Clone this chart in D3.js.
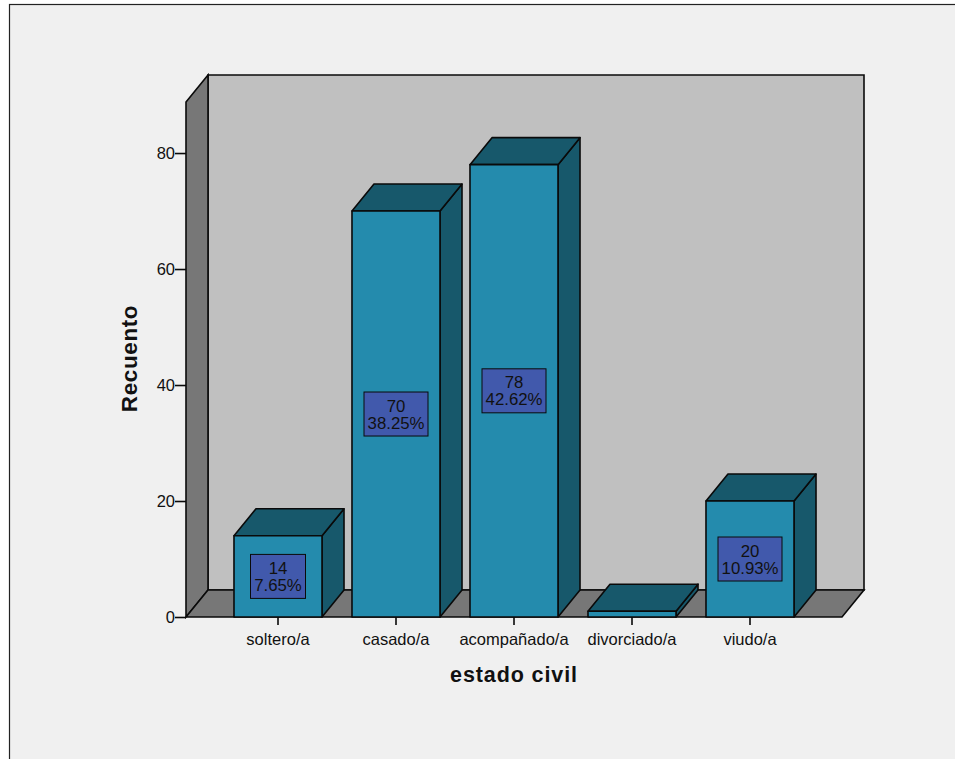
<!DOCTYPE html>
<html>
<head>
<meta charset="utf-8">
<script src="https://cdnjs.cloudflare.com/ajax/libs/d3/7.8.5/d3.min.js"></script>
<style>
html,body{margin:0;padding:0;background:#fff;overflow:hidden}
text{font-family:"Liberation Sans",Arial,sans-serif;fill:#111}
</style>
</head>
<body>
<svg id="chart" width="955" height="759"></svg>
<script>
// Marital status counts, 3D bar chart
const categories = ["soltero/a","casado/a","acompañado/a","divorciado/a","viudo/a"];
const counts = [14,70,78,1,20];
const percents = ["7.65%","38.25%","42.62%",null,"10.93%"];
const yTicks = [0,20,40,60,80];
const yLabel = "Recuento";
const xLabel = "estado civil";

const svg = d3.select("#chart");
const depthX = 22, depthY = -27;
const ink = "#0a0a0a";

const x = d3.scaleBand().domain(categories).range([219,809]).paddingInner(0.254).paddingOuter(0.127);
const y = d3.scaleLinear().domain([0,88.8]).range([617,102]);
const left = 186, right = 842;
const line = pts => "M" + pts.map(p => p.join(",")).join("L") + "Z";

// chart background and frame
svg.append("rect").attr("x",9.5).attr("y",4.5).attr("width",960).attr("height",770)
  .attr("fill","#f0f0f0").attr("stroke","#222").attr("stroke-width",1.2);

const walls = svg.append("g").attr("stroke",ink).attr("stroke-width",1.6).attr("stroke-linejoin","miter");
// back wall
walls.append("path").attr("fill","#c0c0c0").attr("d",line([
  [left+depthX,y.range()[1]+depthY],[right+depthX,y.range()[1]+depthY],
  [right+depthX,y(0)+depthY],[left+depthX,y(0)+depthY]]));
// side wall
walls.append("path").attr("fill","#777777").attr("d",line([
  [left,y.range()[1]],[left+depthX,y.range()[1]+depthY],
  [left+depthX,y(0)+depthY],[left,y(0)]]));
// floor
walls.append("path").attr("fill","#777777").attr("d",line([
  [left,y(0)],[left+depthX,y(0)+depthY],[right+depthX,y(0)+depthY],[right,y(0)]]));

// y axis
const yAxis = d3.axisLeft(y).tickValues(yTicks).tickSize(11).tickPadding(0);
const yG = svg.append("g").attr("transform",`translate(${left},0)`).call(yAxis);
yG.select(".domain").remove();
yG.selectAll("line").attr("stroke",ink).attr("stroke-width",1.6);
yG.selectAll("text").attr("font-family",null).style("font-size","16.5px");

// x axis
const xAxis = d3.axisBottom(x).tickSize(8).tickPadding(8);
const xG = svg.append("g").attr("transform",`translate(0,${y(0)})`).call(xAxis);
xG.select(".domain").remove();
xG.selectAll("line").attr("stroke",ink).attr("stroke-width",1.6);
xG.selectAll("text").attr("font-family",null).style("font-size","16.5px");

// bars: side, top and front faces
const bars = svg.append("g").selectAll("g").data(categories).join("g")
  .attr("stroke",ink).attr("stroke-width",1.6).attr("stroke-linejoin","round");
const bw = x.bandwidth();
bars.append("path").attr("fill","#17586b").attr("d",(c,i)=>{
  const x0=x(c)+bw, t=y(counts[i]), b=y(0);
  return line([[x0,t],[x0+depthX,t+depthY],[x0+depthX,b+depthY],[x0,b]]);
});
bars.append("path").attr("fill","#17586b").attr("d",(c,i)=>{
  const x0=x(c), t=y(counts[i]);
  return line([[x0,t],[x0+depthX,t+depthY],[x0+bw+depthX,t+depthY],[x0+bw,t]]);
});
bars.append("rect").attr("fill","#248bad")
  .attr("x",c=>x(c)).attr("width",bw)
  .attr("y",(c,i)=>y(counts[i])).attr("height",(c,i)=>y(0)-y(counts[i]));

// value boxes: count and percentage as one two-line label
const boxW = {"7.65%":55,"38.25%":64,"42.62%":64,"10.93%":64};
const labels = svg.append("g").selectAll("g")
  .data(categories.map((c,i)=>({c,n:counts[i],p:percents[i]})).filter(d=>d.p)).join("g")
  .attr("transform",d=>`translate(${x(d.c)+bw/2},${(y(d.n)+y(0))/2})`);
labels.append("rect").attr("x",d=>-boxW[d.p]/2).attr("y",-22).attr("width",d=>boxW[d.p]).attr("height",44)
  .attr("fill","#4159ac").attr("stroke",ink).attr("stroke-width",1);
const valueText = labels.append("text").attr("text-anchor","middle").attr("font-size",16.8);
valueText.append("tspan").attr("x",0).attr("y",-2.5).text(d=>d.n);
valueText.append("tspan").attr("x",0).attr("y",14.5).text(d=>d.p);

// axis titles
svg.append("text").attr("transform","translate(137,358.5) rotate(-90)").attr("text-anchor","middle")
  .attr("font-size",22.5).attr("font-weight","bold").style("letter-spacing","0.6px").text(yLabel);
svg.append("text").attr("x",514).attr("y",682).attr("text-anchor","middle")
  .attr("font-size",21.5).attr("font-weight","bold").style("letter-spacing","0.9px").text(xLabel);
</script>
</body>
</html>
